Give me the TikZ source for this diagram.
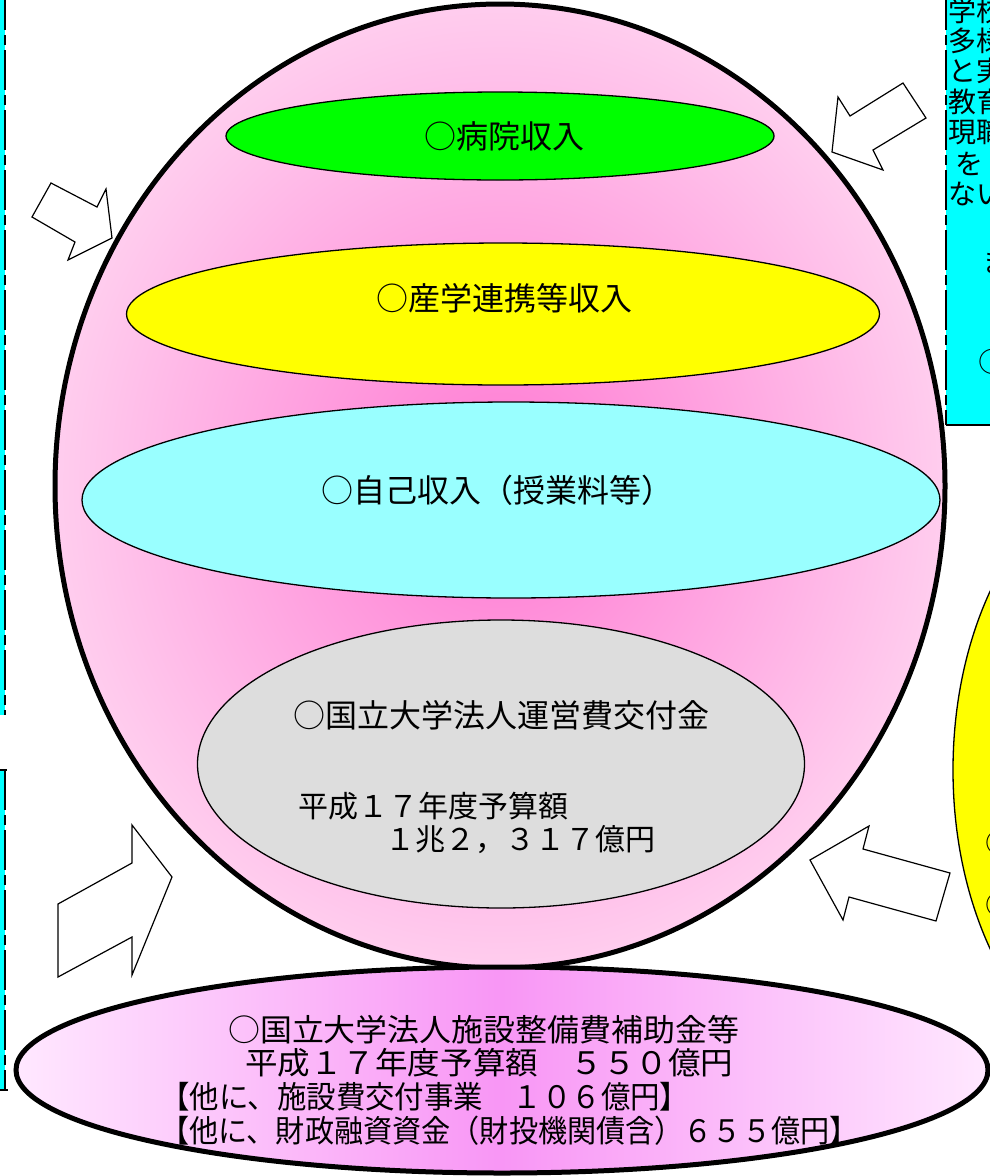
\documentclass[tikz,border=0pt]{standalone}
\usepackage{fontspec}
\newfontfamily\jp{Noto Sans CJK JP}
\usetikzlibrary{shapes.geometric}
\definecolor{pinkIn}{RGB}{255,120,210}
\definecolor{pinkOut}{RGB}{255,205,238}
\definecolor{lilacD}{RGB}{248,150,245}
\definecolor{lilacL}{RGB}{255,232,255}
\definecolor{ltcyan}{RGB}{153,255,255}
\definecolor{aqua}{RGB}{0,255,255}
\definecolor{ltgray}{RGB}{221,221,221}
\definecolor{lime}{RGB}{0,255,0}
\definecolor{yel}{RGB}{255,255,0}
\tikzset{
  oval/.style={ellipse, draw=black, line width=1.3pt, inner sep=0pt},
  bigoval/.style={ellipse, draw=black, line width=5pt, inner sep=0pt},
  lbl/.style={inner sep=0pt, font=\jp\fontsize{32}{36}\selectfont},
  sublbl/.style={inner sep=0pt, anchor=west, font=\jp\fontsize{30}{34}\selectfont},
  botlbl/.style={inner sep=0pt, anchor=west, font=\jp\fontsize{31}{36}\selectfont},
  boxlbl/.style={inner sep=0pt, anchor=west, font=\jp\fontsize{28}{30}\selectfont},
  blockarrow/.style={draw=black, fill=white, line width=1.2pt, line join=miter},
  boxedge/.style={draw=black, line width=2pt},
  dashedge/.style={draw=black, line width=2pt, dash pattern=on 40pt off 5pt on 10pt off 5pt},
}
\begin{document}
\begin{tikzpicture}[x=1pt,y=-1pt]
\useasboundingbox (0,0) rectangle (990,1176);
\clip (0,0) rectangle (990,1176);
\fill[white] (0,0) rectangle (990,1176);

% left side boxes (mostly outside)
\fill[aqua] (-10,-10) rectangle (5,715);
\draw[dashedge] (5,-10) -- (5,715);
\fill[aqua] (-10,770) rectangle (5,1090);
\draw[boxedge] (-10,770) -- (7,770);
\draw[dashedge] (5,770) -- (5,1090);
\draw[boxedge] (-10,1090) -- (8,1090);

% big ellipse
\node[bigoval, inner color=pinkIn, outer color=pinkOut, minimum width=890pt, minimum height=964pt] (big) at (500,486) {};

% inner ellipses
\node[oval, fill=lime, minimum width=548pt, minimum height=88pt] (hosp) at (500,136) {};
\node[oval, fill=yel, minimum width=753pt, minimum height=142pt] (ind) at (503,314) {};
\node[oval, fill=ltcyan, minimum width=858pt, minimum height=196pt] (self) at (511,500) {};
\node[oval, fill=ltgray, minimum width=607pt, minimum height=288pt] (gov) at (501,764) {};

\node[lbl] (thosp) at (504,136) {○病院収入};
\node[lbl] (tind) at (504,298) {○産学連携等収入};
\node[lbl] (tself) at (497,490) {○自己収入（授業料等）};
\node[lbl] (tgov) at (501,715) {○国立大学法人運営費交付金};
\node[sublbl] (tgov2) at (298,806) {平成１７年度予算額};
\node[sublbl] (tgov3) at (385,840) {１兆２，３１７億円};

% bottom ellipse
\node[bigoval, left color=lilacL, right color=lilacL, middle color=lilacD, minimum width=972pt, minimum height=206pt] (fac) at (502,1070) {};
\node[botlbl] (tfac1) at (228,1030) {\scalebox{1.03}[1]{○国立大学法人施設整備費補助金等}};
\node[botlbl] (tfac2) at (245,1063) {\scalebox{1.05}[1]{平成１７年度予算額　５５０億円}};
\node[botlbl] (tfac3) at (160,1097) {\scalebox{0.95}[1]{【他に、施設費交付事業　１０６億円】}};
\node[botlbl] (tfac4) at (160,1131) {\scalebox{0.94}[1]{【他に、財政融資資金（財投機関債含）６５５億円】}};

% right yellow ellipse (mostly outside)
\node[oval, fill=yel, minimum width=400pt, minimum height=616pt] (ryel) at (1153,770) {};
\node[boxlbl] (ry1) at (985,843) {○};
\node[boxlbl] (ry2) at (985,905) {○};

% right cyan box (mostly outside)
\fill[aqua] (946,-10) rectangle (1000,425);
\draw[dashedge] (946,-10) -- (946,425);
\draw[boxedge] (946,425) -- (1000,425);
\node[boxlbl] (rb1) at (948,11) {学校};
\node[boxlbl] (rb2) at (948,41) {多様};
\node[boxlbl] (rb3) at (948,71) {と実};
\node[boxlbl] (rb4) at (948,102) {教育};
\node[boxlbl] (rb5) at (948,132) {現職};
\node[boxlbl] (rb6) at (955,164) {を};
\node[boxlbl] (rb7) at (948,194) {ない};
\node[boxlbl] (rb8) at (982,262) {ま};
\node[boxlbl] (rb9) at (978,362) {○};

% block arrows
\draw[blockarrow] (51,183) -- (97,207) -- (106,189) -- (112,238) -- (68,260) -- (75,242) -- (32,217) -- cycle;
\draw[blockarrow] (903,83) -- (926,118) -- (873,150) -- (883,170) -- (832,152) -- (838,97) -- (850,116) -- cycle;
\draw[blockarrow] (58,904) -- (132,863) -- (132,825) -- (172,877) -- (132,975) -- (132,937) -- (58,977) -- cycle;
\draw[blockarrow] (869,826) -- (863,849) -- (950,873) -- (936,921) -- (849,897) -- (843,920) -- (810,860) -- cycle;
\end{tikzpicture}
\end{document}
